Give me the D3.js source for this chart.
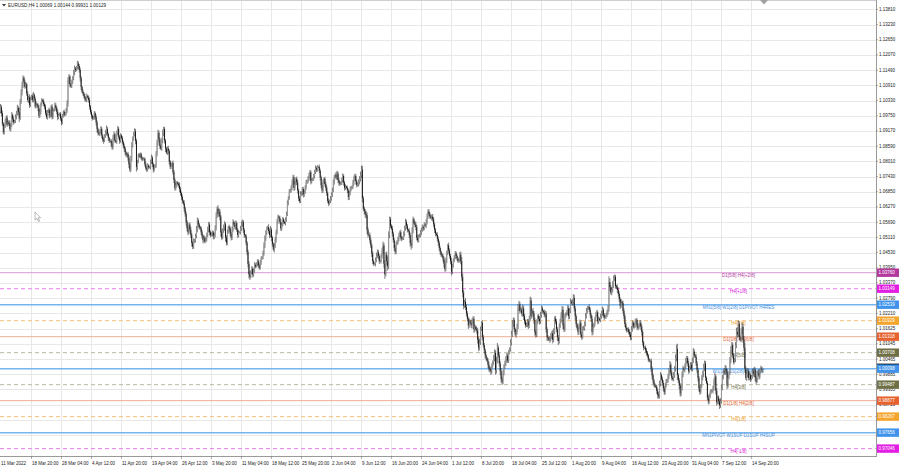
<!DOCTYPE html>
<html><head><meta charset="utf-8">
<script src="https://cdn.jsdelivr.net/npm/d3@7"></script>
<style>html,body{margin:0;padding:0;background:#fff;overflow:hidden}svg{display:block}</style>
</head><body>
<svg id="c" width="900" height="468"></svg>
<script>
// ---------- DATA (prices in units of 0.0001) ----------
const symbolTitle = "EURUSD,H4  1.00069 1.00144 0.99931 1.00129";
const firstOpen = 10990;
// H4 closes from 11 Mar 2022 08:00 to 16 Sep 2022 20:00
const closes = [
11008,10985,10945,10912,
10935,10952,10968,10941,10950,10943, 10925,10940,10978,10962,10950,10955, 10970,10985,11005,10990,10965,11030, 11065,11090,11120,11105,11085,11095, 11060,11035,11045,11015,11040,11050,
11035,11055,11040,11010,11020,11016, 11005,10975,10990,11020,11035,11030, 11020,11010,10985,10970,10990,10997, 10975,10985,11010,10970,10995,11000, 11015,11005,10990,10970,10978,10983,
10965,10950,10975,10990,10978,10985, 10995,11020,11110,11125,11095,11088, 11105,11120,11140,11155,11150,11160, 11175,11165,11150,11120,11085,11067, 11060,11050,11040,11035,11050,11045,
11035,11010,10990,10975,10965,10970, 10985,10970,10950,10925,10910,10905, 10915,10925,10900,10885,10880,10900, 10910,10925,10905,10890,10880,10880, 10870,10855,10890,10905,10880,10875,
10910,10925,10895,10880,10900,10890, 10875,10860,10850,10835,10825,10830, 10815,10790,10770,10810,10860,10890, 10905,10915,10880,10780,10800,10826, 10820,10830,10815,10808,10812,10810,
10790,10775,10770,10785,10778,10780, 10800,10815,10790,10770,10780,10785, 10830,10870,10910,10885,10860,10850, 10880,10910,10925,10880,10850,10835, 10850,10840,10800,10780,10785,10795,
10760,10730,10700,10710,10720,10715, 10710,10695,10680,10665,10650,10640, 10620,10600,10570,10545,10530,10560, 10540,10520,10490,10475,10495,10500, 10515,10540,10575,10560,10550,10545,
10530,10515,10500,10510,10495,10505, 10520,10540,10560,10530,10520,10525, 10530,10515,10520,10545,10590,10620, 10600,10610,10590,10530,10510,10540, 10550,10560,10510,10490,10530,10550,
10545,10525,10510,10540,10570,10560, 10550,10565,10540,10520,10530,10530, 10545,10560,10570,10540,10520,10515, 10490,10455,10410,10370,10360,10380, 10390,10370,10385,10405,10400,10410,
10420,10405,10395,10415,10430,10435, 10450,10480,10510,10530,10545,10550, 10535,10520,10540,10510,10485,10465, 10480,10500,10530,10570,10590,10585, 10570,10545,10560,10580,10570,10565,
10580,10600,10640,10660,10685,10690, 10700,10720,10740,10700,10715,10735, 10720,10690,10660,10650,10675,10680, 10695,10675,10685,10700,10720,10725, 10735,10745,10760,10725,10730,10735,
10745,10760,10775,10770,10780,10780, 10765,10740,10710,10690,10720,10735, 10715,10700,10680,10650,10640,10650, 10660,10675,10690,10720,10740,10750, 10740,10755,10730,10720,10715,10720,
10730,10745,10720,10700,10705,10700, 10690,10665,10680,10695,10700,10705, 10720,10735,10745,10725,10710,10715, 10725,10735,10750,10770,10660,10620, 10610,10600,10595,10540,10520,10520,
10500,10480,10450,10420,10410,10410, 10425,10440,10455,10440,10420,10420, 10440,10460,10480,10410,10370,10445, 10420,10400,10520,10580,10555,10545, 10525,10500,10470,10455,10485,10495,
10505,10520,10530,10510,10505,10510, 10525,10545,10570,10555,10540,10535, 10520,10490,10480,10535,10580,10565, 10560,10550,10510,10500,10515,10520, 10530,10540,10550,10545,10560,10555,
10570,10590,10610,10600,10590,10585, 10590,10580,10560,10540,10525,10520, 10505,10490,10470,10455,10445,10440, 10430,10410,10390,10420,10450,10480, 10460,10440,10420,10380,10400,10425,
10435,10450,10440,10430,10420,10425, 10445,10420,10360,10300,10250,10265, 10245,10220,10200,10175,10190,10185, 10175,10190,10200,10160,10170,10160, 10155,10120,10090,10110,10160,10185,
10130,10100,10080,10060,10050,10040, 10025,10010,10005,10000,10020,10035, 10050,10070,10005,10040,10090,10060, 10030,10000,9970,9960,9990,10020, 10030,10045,10060,10040,10070,10085,
10110,10140,10180,10195,10160,10140, 10150,10170,10240,10255,10230,10235, 10220,10240,10210,10190,10175,10180, 10190,10175,10200,10270,10210,10230, 10220,10195,10150,10140,10185,10210,
10200,10190,10215,10240,10230,10225, 10215,10220,10160,10130,10125,10120, 10125,10135,10145,10120,10150,10200, 10190,10160,10130,10115,10170,10195, 10215,10235,10175,10160,10210,10220,
10225,10240,10210,10230,10265,10260, 10265,10280,10240,10210,10180,10165, 10150,10170,10185,10140,10130,10165, 10165,10180,10210,10230,10240,10245, 10235,10215,10200,10150,10170,10180,
10200,10215,10225,10190,10200,10195, 10210,10220,10235,10215,10205,10210, 10215,10225,10240,10340,10320,10300, 10310,10330,10355,10360,10325,10320, 10310,10295,10275,10250,10265,10260,
10230,10210,10180,10165,10155,10160, 10150,10140,10130,10160,10185,10170, 10175,10190,10195,10170,10165,10180, 10185,10170,10150,10110,10090,10090, 10080,10070,10060,10045,10040,10040,
10010,9985,9965,9950,9945,9940, 9925,9910,9905,9950,9985,9970, 9955,9935,9920,9945,9960,9965, 9980,10000,10025,9995,9975,9970, 9985,10010,10050,10085,9985,9965,
9945,9915,9935,9985,10010,10005, 10020,10040,10050,10030,10000,10015, 10025,10010,10040,10075,10060,10055, 10030,10005,9975,9935,9920,9945, 9975,9990,10015,10030,9975,9955,
9900,9885,9905,9920,9925,9925, 9935,9960,9980,9925,9880,9900, 9885,9870,9885,9935,9975,10000, 9995,10010,10000,9945,9975,9995, 10040,10080,10100,10060,10035,10045,
10100,10150,10140,10180,10130,10120, 10150,10170,10120,10090,10010,9975, 9990,10000,9975,9985,9970,9980, 10000,9990,10005,9975,9960,9995, 9995,9980,10000,10010,10007,10013
];
// upper wick above the body, per bar
const wickUp = [
12,8,10,6,
8,12,6,10,5,9, 14,7,11,6,9,4, 10,8,12,7,15,9, 12,15,9,6,8,5, 7,10,6,12,8,4,
9,11,6,8,10,5, 7,12,9,6,8,4, 10,6,8,12,7,5, 9,14,6,10,7,4, 11,8,6,9,5,4,
6,9,7,5,8,4, 10,14,12,9,6,5, 8,7,10,12,6,5, 10,8,7,9,6,4, 8,6,9,7,10,5,
7,9,6,8,5,4, 8,6,9,7,5,4, 9,11,7,6,8,5, 10,13,8,6,5,4, 7,9,12,10,6,4,
9,11,7,6,8,4, 8,6,9,7,5,4, 7,10,8,12,14,6, 9,12,10,8,6,5, 6,5,4,6,5,3,
6,8,7,9,5,4, 8,12,7,6,9,5, 10,14,12,9,7,6, 11,13,9,7,6,5, 8,10,7,6,9,5,
9,8,7,10,6,5, 7,10,8,6,9,5, 12,8,9,7,10,6, 9,11,8,7,12,5, 10,14,12,8,6,5,
8,9,7,10,6,4, 9,12,10,8,7,5, 7,6,9,12,16,8, 14,12,9,7,11,6, 10,12,8,9,11,5,
9,8,7,12,10,5, 8,11,7,6,9,4, 10,12,9,7,6,5, 8,7,9,10,12,6, 11,9,8,12,7,5,
7,8,6,9,8,4, 10,12,9,8,7,5, 11,9,14,8,7,6, 9,12,10,11,8,5, 8,10,7,9,6,4,
7,9,12,8,10,5, 9,12,10,8,11,5, 8,10,7,9,12,6, 7,9,8,10,11,5, 9,12,8,7,6,4,
8,9,10,7,6,4, 9,8,7,10,12,5, 7,8,9,6,10,5, 9,8,10,12,9,5, 11,10,7,8,6,4,
9,10,7,6,8,4, 8,7,9,10,6,5, 10,12,9,8,7,5, 8,10,12,15,14,8, 9,10,12,11,9,5,
10,9,8,7,6,5, 9,12,10,8,7,5, 8,12,15,10,14,9, 12,18,14,10,9,6, 10,8,9,12,10,5,
8,9,7,10,6,4, 9,10,12,8,7,5, 10,9,12,15,10,6, 8,11,9,10,7,5, 9,8,10,7,9,4,
10,12,8,9,7,5, 9,10,8,7,6,5, 10,9,8,7,6,5, 9,8,12,14,10,6, 11,9,8,13,10,5,
8,9,7,6,5,4, 10,12,15,12,10,7, 14,10,9,8,12,6, 11,12,9,10,8,5, 9,10,12,14,11,6,
10,9,8,7,6,5, 9,10,8,12,10,6, 12,14,10,15,18,9, 11,10,12,9,14,7, 10,12,9,8,11,6,
12,14,15,10,9,6, 10,12,16,14,10,7, 11,14,10,9,8,6, 10,9,12,15,11,7, 12,10,9,8,13,6,
9,10,12,11,8,5, 10,12,9,8,7,5, 9,10,8,12,14,9, 11,10,9,8,12,6, 10,14,12,9,10,5,
9,12,10,11,13,6, 10,14,12,9,8,6, 8,11,12,10,9,6, 9,10,12,11,8,5, 10,9,8,12,11,6,
8,10,9,7,8,5, 9,10,12,8,7,5, 8,9,12,22,14,8, 12,14,10,9,8,6, 11,10,9,8,10,5,
9,10,8,7,6,5, 8,9,10,12,9,6, 10,9,8,7,9,5, 9,10,8,7,6,5, 8,9,7,6,5,4,
9,8,7,6,5,4, 8,9,10,14,12,6, 9,10,8,9,11,5, 10,12,14,9,8,6, 12,10,14,16,20,8,
9,10,12,14,11,6, 10,12,9,8,10,5, 9,10,12,14,9,6, 10,9,8,7,12,6, 10,12,14,11,9,5,
8,9,10,8,7,5, 10,12,14,9,11,6, 8,9,12,14,10,7, 12,14,11,9,12,6, 14,16,12,10,9,5,
12,16,18,14,10,7, 14,16,12,15,18,9, 10,12,9,11,8,6, 9,10,12,9,8,5, 10,12,9,11,8,1
];
// lower wick below the body, per bar
const wickDown = [
6,12,9,8,
9,7,10,8,6,5, 8,10,7,12,9,4, 7,9,10,12,14,6, 10,12,9,8,7,5, 9,8,12,10,6,4,
8,10,9,7,6,5, 12,9,8,10,7,5, 9,11,8,7,10,4, 10,8,12,9,7,5, 7,9,10,12,8,4,
9,12,8,7,6,4, 8,9,10,12,11,6, 7,8,9,10,8,5, 9,12,10,14,12,6, 8,9,10,7,8,4,
10,12,9,11,8,5, 9,10,12,14,10,6, 8,9,11,10,12,5, 9,10,8,11,9,5, 12,10,8,9,8,4,
8,9,10,12,8,5, 9,10,12,11,9,5, 12,14,10,8,9,6, 10,9,14,18,12,6, 6,5,7,6,5,3,
9,8,10,7,6,4, 10,9,11,12,8,5, 8,10,9,11,12,6, 9,10,12,11,14,6, 10,12,11,9,8,4,
10,12,11,9,8,5, 9,12,10,11,9,6, 12,10,14,12,11,7, 10,12,14,9,8,5, 9,8,10,12,9,5,
10,9,12,8,7,4, 9,8,10,12,9,5, 10,12,11,9,8,6, 9,12,14,16,10,6, 12,14,16,10,9,5,
12,10,11,9,8,5, 9,10,8,11,9,4, 8,10,9,12,11,5, 10,12,14,16,12,6, 10,12,9,8,7,4,
9,10,8,7,9,4, 8,9,10,12,9,5, 10,12,9,14,11,6, 12,10,9,8,7,5, 9,10,8,7,9,4,
9,10,8,7,6,4, 8,9,10,12,9,5, 10,12,11,9,8,5, 9,12,10,8,7,5, 8,9,10,12,8,4,
8,9,7,10,8,4, 9,12,11,10,9,5, 10,12,11,9,10,5, 8,9,10,7,8,4, 9,10,12,11,8,4,
9,10,12,11,8,4, 10,12,11,9,8,5, 9,10,8,12,9,5, 10,12,11,14,16,8, 12,14,12,15,10,6,
12,10,14,12,9,5, 10,9,8,12,11,5, 9,10,12,15,18,8, 14,16,10,12,9,6, 12,10,11,9,8,4,
10,9,8,11,9,4, 9,10,8,11,10,5, 12,14,16,10,9,6, 10,12,11,9,8,5, 9,10,8,9,7,4,
9,10,8,7,9,4, 10,9,11,12,10,5, 9,12,10,11,9,6, 12,14,10,9,8,6, 11,10,12,14,9,5,
9,8,10,9,7,4, 10,12,15,18,14,8, 12,11,10,14,9,6, 10,12,11,14,10,5, 12,15,14,10,9,6,
12,10,11,12,9,5, 12,11,10,14,10,6, 10,12,18,14,10,8, 12,15,14,12,10,6, 11,10,12,9,8,5,
10,12,9,11,10,6, 12,10,9,11,10,6, 10,12,14,11,9,6, 12,14,10,9,11,6, 10,14,15,12,9,5,
10,12,9,11,10,5, 9,10,12,14,10,5, 12,10,11,14,9,8, 10,12,14,15,10,6, 11,12,14,10,9,5,
9,10,12,11,8,5, 10,11,12,14,10,6, 12,10,9,12,11,6, 9,10,8,9,10,5, 9,10,12,14,10,6,
9,10,8,11,9,5, 8,9,10,11,9,5, 9,8,10,12,14,8, 10,9,12,11,10,6, 12,10,11,12,9,5,
10,12,11,9,8,5, 9,10,12,11,9,6, 8,9,10,11,9,5, 10,12,14,12,10,6, 9,10,8,9,7,4,
12,14,12,10,9,5, 12,14,10,9,8,6, 10,12,11,9,8,5, 9,10,11,12,10,6, 9,10,11,12,18,10,
14,12,10,9,8,5, 10,9,11,12,10,6, 9,10,11,9,8,5, 10,12,14,12,10,6, 9,10,12,14,12,5,
10,12,9,8,7,5, 10,9,11,14,12,6, 12,14,10,9,8,6, 10,9,12,14,10,6, 9,10,12,11,9,5,
10,12,11,9,12,6, 9,10,12,14,16,8, 12,14,10,9,11,6, 9,10,12,14,11,5, 10,12,9,8,9,14
];
const priceTicks = [1.13810,1.13230,1.12650,1.12070,1.11490,1.10910,1.10330,1.09750,1.09170,1.08590,1.08010,1.07430,1.06850,1.06270,1.05690,1.05110,1.04530,1.03950,1.03370,1.02790,1.02210,1.01625,1.01045,1.00465,0.99885,0.99305,0.98725,0.98145,0.97565];
const xTickIndex = [0,33,65,97,129,161,193,225,257,289,321,353,385,417,449,481,513,545,577,609,641,673,705,737,769,801];
const xTickLabels = ["11 Mar 2022","18 Mar 20:00","28 Mar 04:00","4 Apr 12:00","11 Apr 20:00","19 Apr 04:00","26 Apr 12:00","3 May 20:00","11 May 04:00","18 May 12:00","25 May 20:00","2 Jun 04:00","9 Jun 12:00","16 Jun 20:00","24 Jun 04:00","1 Jul 12:00","8 Jul 20:00","18 Jul 04:00","25 Jul 12:00","1 Aug 20:00","9 Aug 04:00","16 Aug 12:00","23 Aug 20:00","31 Aug 04:00","7 Sep 12:00","14 Sep 20:00"];
const levelPrices = [1.03760,1.03149,1.02539,1.01929,1.01318,1.00708,1.00098,0.99487,0.98877,0.98267,0.97656,0.97046];
const levelLabels = ["D1[5/8] H4[+2/8]","H4[+1/8]","MN1[5/8] W1[2/8] D1PIVOT H4RES","H4[7/8]","D1[3/8] H4[6/8]","H4[5/8]","W1[1/8] D1[2/8] H4PIVOT","H4[3/8]","D1[1/8] H4[2/8]","H4[1/8]","MN1PIVOT W1SUP D1SUP H4SUP","H4[-1/8]"];
const levelKinds = ["purple","magenta","blue","orange","red","olive","blue","olive","red","orange","blue","magenta"];
const currentPrice = 1.00129;

// ---------- STYLES ----------
const kindStyle = {
  purple: {line:"#d59ad1", dash:null, box:"#b4399e", text:"#b4399e", w:1},
  magenta:{line:"#ee7cee", dash:"4,3", box:"#e21ee2", text:"#d41cd4", w:1},
  blue:   {line:"#76b4ee", dash:null, box:"#3f93ec", text:"#3f8fe0", w:1.5},
  orange: {line:"#f4c27a", dash:"4,3", box:"#f4a52e", text:"#ee9e26", w:1},
  red:    {line:"#f0ad94", dash:null, box:"#e6622e", text:"#e0602e", w:1},
  olive:  {line:"#b8b8a0", dash:"4,3", box:"#6f7045", text:"#6f7045", w:1}
};
const FONT = "Liberation Sans, Arial, sans-serif";
const W = 900, H = 468, PR = 876, PB = 456;

const svg = d3.select("#c");
svg.append("rect").attr("width",W).attr("height",H).attr("fill","#fff");

const x = d3.scaleLinear().domain([0, 813]).range([0.5, 762.7]);
const y = d3.scaleLinear().domain([0.96764, 1.14169]).range([PB, 0]);

// grid
const grid = svg.append("g");
grid.selectAll("line.h").data(priceTicks).enter().append("line")
  .attr("x1",0).attr("x2",PR).attr("y1",d=>Math.round(y(d))+0.5).attr("y2",d=>Math.round(y(d))+0.5)
  .attr("stroke","#e2e2e2").attr("stroke-width",0.8);
grid.selectAll("line.v").data(xTickIndex.slice(1)).enter().append("line")
  .attr("y1",0).attr("y2",PB).attr("x1",d=>Math.round(x(d))+0.5).attr("x2",d=>Math.round(x(d))+0.5)
  .attr("stroke","#e2e2e2").attr("stroke-width",0.8);

// level lines
const lv = svg.append("g");
levelPrices.forEach((p,i)=>{
  const s = kindStyle[levelKinds[i]];
  lv.append("line").attr("x1",0).attr("x2",PR).attr("y1",y(p)).attr("y2",y(p))
    .attr("stroke",s.line).attr("stroke-width",s.w).attr("stroke-dasharray",s.dash);
  lv.append("text").attr("x",738.5).attr("y",y(p)+0.8).attr("text-anchor","middle")
    .attr("dominant-baseline","hanging").attr("font-family",FONT).attr("font-size",4.5)
    .attr("fill",s.text).text(levelLabels[i]);
});

// candles
const bars = closes.map((c,i)=>{
  const o = i===0 ? firstOpen : closes[i-1];
  return {i, o:o/1e4, c:c/1e4, h:(Math.max(o,c)+wickUp[i])/1e4, l:(Math.min(o,c)-wickDown[i])/1e4};
});
const cg = svg.append("g");
cg.selectAll("line.w").data(bars).enter().append("line")
  .attr("x1",d=>x(d.i)).attr("x2",d=>x(d.i)).attr("y1",d=>y(d.h)).attr("y2",d=>y(d.l))
  .attr("stroke","#2a2a2a").attr("stroke-width",0.6);
cg.selectAll("rect").data(bars).enter().append("rect")
  .attr("x",d=>x(d.i)-0.45).attr("width",0.9)
  .attr("y",d=>y(Math.max(d.o,d.c)))
  .attr("height",d=>Math.max(0.5, Math.abs(y(d.o)-y(d.c))))
  .attr("fill",d=>d.c>=d.o ? "#9a9a9a" : "#111")
  .attr("stroke","none");

// frame
svg.append("line").attr("x1",PR+0.5).attr("x2",PR+0.5).attr("y1",0).attr("y2",PB+1).attr("stroke","#9a9a9a");
svg.append("line").attr("x1",0).attr("x2",PR+1).attr("y1",PB+0.5).attr("y2",PB+0.5).attr("stroke","#9a9a9a");
svg.append("line").attr("x1",0).attr("x2",PR).attr("y1",0.5).attr("y2",0.5).attr("stroke","#cfcfcf");

// right axis labels (those hidden under a level box are not printed)
const boxHalf = 4.2;
const visibleTicks = priceTicks.filter(t =>
  !levelPrices.some(p => Math.abs(y(p) - y(t)) < 3.6));
const ax = svg.append("g");
ax.selectAll("text").data(visibleTicks).enter().append("text")
  .attr("x",879).attr("y",d=>y(d)).attr("dominant-baseline","central")
  .attr("font-family",FONT).attr("font-size",4.5).attr("fill","#222")
  .text(d=>d.toFixed(5));
ax.selectAll("line").data(priceTicks).enter().append("line")
  .attr("x1",PR).attr("x2",PR+2).attr("y1",d=>y(d)).attr("y2",d=>y(d)).attr("stroke","#777").attr("stroke-width",0.6);

// bottom axis labels
const bx = svg.append("g");
bx.selectAll("text").data(xTickIndex).enter().append("text")
  .attr("x",(d,i)=> i===0 ? 1 : x(d)+0.5).attr("y",463.5).attr("dominant-baseline","central")
  .attr("font-family",FONT).attr("font-size",4.5).attr("fill","#222")
  .text((d,i)=>xTickLabels[i]);
bx.selectAll("line").data(xTickIndex.slice(1)).enter().append("line")
  .attr("x1",d=>x(d)).attr("x2",d=>x(d)).attr("y1",PB).attr("y2",PB+3).attr("stroke","#777").attr("stroke-width",0.6);

// right boxes for levels and current price
const boxes = svg.append("g");
function priceBox(p, color, txt){
  boxes.append("rect").attr("x",PR+1).attr("y",y(p)-boxHalf).attr("width",22).attr("height",boxHalf*2).attr("fill",color);
  boxes.append("text").attr("x",PR+2.5).attr("y",y(p)).attr("dominant-baseline","central")
    .attr("font-family",FONT).attr("font-size",4.5).attr("fill","#fff").text(txt);
}
priceBox(currentPrice, "#000", currentPrice.toFixed(5));
levelPrices.forEach((p,i)=> priceBox(p, kindStyle[levelKinds[i]].box, p.toFixed(5)));

// header
svg.append("path").attr("d","M2,4 L6,4 L4,6.5 Z").attr("fill","#333");
svg.append("text").attr("x",8).attr("y",5.6).attr("dominant-baseline","central")
  .attr("font-family",FONT).attr("font-size",4.6).attr("fill","#222").text(symbolTitle);
// chart shift marker
svg.append("path").attr("d","M760,0 L768,0 L764,4.5 Z").attr("fill","#a0a0a0");
// mouse cursor
svg.append("path").attr("d","M35,212 L35,220 L37,218.3 L38.6,221.6 L39.7,221.1 L38.2,217.8 L40.6,217.8 Z")
  .attr("fill","#fff").attr("stroke","#777").attr("stroke-width",0.5);
</script>
</body></html>
